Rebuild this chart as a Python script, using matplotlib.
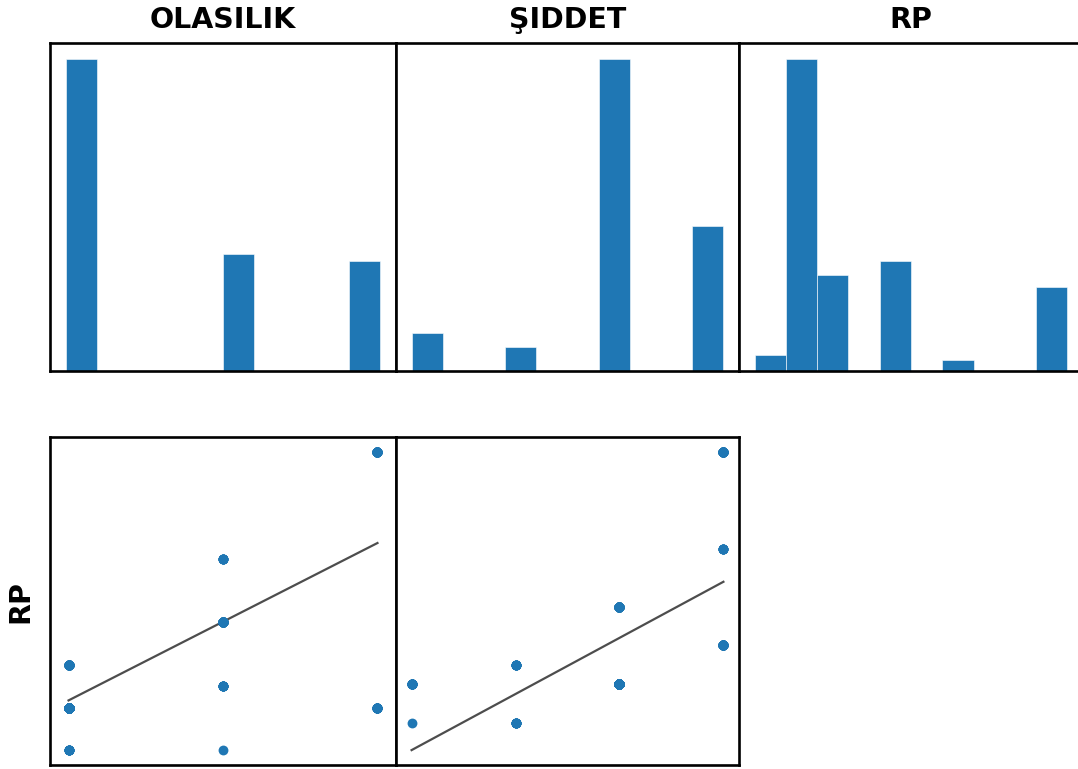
import numpy as np
import matplotlib
matplotlib.use('Agg')
import matplotlib.pyplot as plt

# unique (OLASILIK, ŞIDDET, RP) combinations and how many rows each has
olasilik = [3, 4, 2, 3, 2, 3, 2, 3, 4]
siddet = [2, 2, 3, 3, 4, 4, 5, 5, 5]
rp = [6, 8, 6, 9, 8, 12, 10, 15, 20]
counts = [1, 25, 8, 8, 151, 62, 46, 6, 47]

columns = ['OLASILIK', 'ŞIDDET', 'RP']

data = {
    'OLASILIK': np.repeat(olasilik, counts),
    'ŞIDDET': np.repeat(siddet, counts),
    'RP': np.repeat(rp, counts),
}

W, H = 1078, 769
fig = plt.figure(figsize=(W / 100, H / 100), dpi=100)

col_edges = [(50, 396), (396, 739), (739, 1083)]
top_row = (43.3, 370.7)
bottom_row = (437.3, 765.0)


def make_ax(col, row):
    x0, x1 = col
    y0, y1 = row
    return fig.add_axes([x0 / W, (H - y1) / H, (x1 - x0) / W, (y1 - y0) / H])


def clean(ax):
    ax.set_xticks([])
    ax.set_yticks([])
    for sp in ax.spines.values():
        sp.set_linewidth(1.9)
        sp.set_color('black')


# --------------------------------------------
# histogramy na przekątnej
for i, col in enumerate(columns):
    ax = make_ax(col_edges[i], top_row)
    ax.hist(data[col], bins=10, color='#1f77b4', edgecolor='white', linewidth=0.4)
    ax.set_title(col, fontsize=20.5, fontweight='bold', pad=11)
    clean(ax)

# --------------------------------------------
# RP vs OLASILIK / ŞIDDET z linią regresji
for i, col in enumerate(columns[:2]):
    ax = make_ax(col_edges[i], bottom_row)
    x = data[col]
    y = data['RP']
    ax.scatter(x, y, s=50, color='#1f77b4', linewidths=0, zorder=3)
    k, b = np.polyfit(x, y, 1)
    xs = np.array([x.min(), x.max()])
    ax.plot(xs, k * xs + b, color='#4d4d4d', linewidth=1.6)
    if i == 0:
        ax.margins(x=0.06)
        ax.set_ylabel('RP', fontsize=20.5, fontweight='bold', labelpad=11)
    clean(ax)

fig.savefig('out.png', dpi=100)
